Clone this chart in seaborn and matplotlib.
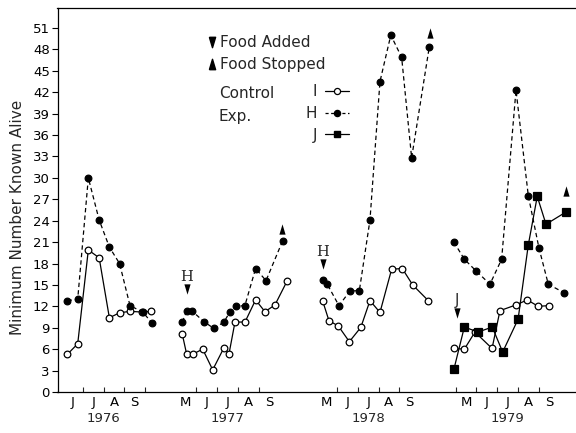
import numpy as np
import pandas as pd
import matplotlib
matplotlib.use("Agg")
import matplotlib.pyplot as plt
import seaborn as sns
from matplotlib.lines import Line2D

# ---------------- data ----------------
# sampling dates are given as month + fraction of the month (6.5 = mid June)
years = [1976, 1977, 1978, 1979]

control_dates_1976 = [6.27, 6.76, 7.27, 7.79, 8.28, 8.77, 9.27, 9.85, 10.3]
control_1976 = [5.3, 6.75, 19.9, 18.8, 10.4, 11.1, 11.3, 11.2, 11.3]
h_dates_1976 = [6.27, 6.76, 7.27, 7.79, 8.28, 8.77, 9.27, 9.88, 10.32]
h_1976 = [12.8, 13.0, 30.0, 24.1, 20.3, 18.0, 12.1, 11.2, 9.7]

control_dates_1977 = [5.33, 5.54, 5.83, 6.31, 6.79, 7.33, 7.57, 7.86, 8.34, 8.85, 9.3, 9.78, 10.37]
control_1977 = [8.1, 5.3, 5.3, 6.0, 3.1, 6.2, 5.3, 9.8, 9.8, 12.9, 11.25, 12.2, 15.6]
h_dates_1977 = [5.33, 5.54, 5.78, 6.37, 6.85, 7.33, 7.62, 7.89, 8.33, 8.85, 9.35, 10.15]
h_1977 = [9.8, 11.3, 11.4, 9.85, 8.9, 9.8, 11.25, 12.1, 12.05, 17.3, 15.6, 21.2]

control_dates_1978 = [5.32, 5.62, 6.07, 6.6, 7.15, 7.59, 8.07, 8.63, 9.14, 9.64, 10.39]
control_1978 = [12.75, 10.0, 9.25, 7.05, 9.05, 12.8, 11.15, 17.2, 17.3, 15.0, 12.8]
h_dates_1978 = [5.32, 5.54, 6.1, 6.63, 7.08, 7.59, 8.07, 8.59, 9.11, 9.59, 10.44]
h_1978 = [15.7, 15.1, 12.1, 14.15, 14.2, 24.1, 43.5, 50.0, 46.9, 32.8, 48.4]

control_dates_1979 = [4.93, 5.42, 5.93, 6.75, 7.13, 7.9, 8.44, 8.97, 9.47]
control_1979 = [6.1, 6.0, 8.4, 6.1, 11.4, 12.2, 12.9, 12.0, 12.1]
h_dates_1979 = [4.92, 5.42, 5.97, 6.65, 7.21, 7.9, 8.49, 9.0, 9.45, 10.21]
h_1979 = [21.0, 18.6, 17.0, 15.1, 18.6, 42.3, 27.5, 20.2, 15.1, 13.9]
j_dates_1979 = [4.92, 5.42, 6.08, 6.76, 7.26, 8.0, 8.49, 8.92, 9.34, 10.29]
j_1979 = [3.2, 9.1, 8.4, 9.1, 5.6, 10.2, 20.6, 27.4, 23.5, 25.2]

# food manipulation events
added_years = [1977, 1978, 1979]
added_dates = [5.54, 5.32, 5.05]
added_levels = [14.4, 18.0, 11.1]
added_grids = ["H", "H", "J"]
stopped_years = [1977, 1978, 1979]
stopped_dates = [10.13, 10.47, 10.29]
stopped_levels = [22.9, 50.3, 28.1]

month_letters = {5: "M", 6: "J", 7: "J", 8: "A", 9: "S"}
year_months = {1976: [6, 7, 8, 9], 1977: [5, 6, 7, 8, 9],
               1978: [5, 6, 7, 8, 9], 1979: [5, 6, 7, 8, 9]}
y_ticks = list(range(0, 52, 3))

# --------------- layout helpers ---------------
# winters are left out: each season is shifted along a compressed axis
year_offset = {1976: 0.0, 1977: 6.45, 1978: 13.2, 1979: 19.9}
year_ticks = {1976: [7, 8, 9, 10], 1977: [6, 7, 8, 9],
              1978: [6, 7, 8, 9], 1979: [5, 6, 7, 8, 9]}

rows = []
def add(series, year, dates, vals):
    for d, v in zip(dates, vals):
        rows.append({"series": series, "year": year,
                     "x": year_offset[year] + d, "value": v})

add("Control", 1976, control_dates_1976, control_1976)
add("Control", 1977, control_dates_1977, control_1977)
add("Control", 1978, control_dates_1978, control_1978)
add("Control", 1979, control_dates_1979, control_1979)
add("H", 1976, h_dates_1976, h_1976)
add("H", 1977, h_dates_1977, h_1977)
add("H", 1978, h_dates_1978, h_1978)
add("H", 1979, h_dates_1979, h_1979)
add("J", 1979, j_dates_1979, j_1979)
df = pd.DataFrame(rows)

ev_add = pd.DataFrame({"x": [year_offset[y] + d for y, d in zip(added_years, added_dates)],
                       "value": added_levels, "grid": added_grids})
ev_stop = pd.DataFrame({"x": [year_offset[y] + d for y, d in zip(stopped_years, stopped_dates)],
                        "value": stopped_levels})

# --------------- drawing ---------------
sns.set_style("ticks")
plt.rcParams["font.family"] = ["DejaVu Sans"]

W, H = 576, 433
fig = plt.figure(figsize=(W / 100, H / 100), dpi=100)
ax = fig.add_axes([57.5 / W, 41 / H, 518.5 / W, 384 / H])

lw = 0.9
sns.lineplot(data=df[df.series == "Control"], x="x", y="value", units="year",
             estimator=None, sort=False, color="black", lw=lw, marker="o",
             markersize=4.8, markerfacecolor="white", markeredgecolor="black",
             markeredgewidth=0.9, ax=ax)
sns.lineplot(data=df[df.series == "H"], x="x", y="value", units="year",
             estimator=None, sort=False, color="black", lw=lw,
             linestyle=(0, (3.5, 2.5)), marker="o", markersize=4.8,
             markerfacecolor="black", markeredgecolor="black",
             markeredgewidth=0.9, ax=ax)
sns.lineplot(data=df[df.series == "J"], x="x", y="value", units="year",
             estimator=None, sort=False, color="black", lw=lw, marker="s",
             markersize=5.4, markerfacecolor="black", markeredgecolor="black",
             markeredgewidth=0.9, ax=ax)

tri_down = [(-0.6, 1.0), (0.6, 1.0), (0.0, -1.0), (-0.6, 1.0)]
tri_up = [(-0.6, -1.0), (0.6, -1.0), (0.0, 1.0), (-0.6, -1.0)]
sns.scatterplot(data=ev_add, x="x", y="value", marker=tri_down, s=55,
                color="black", linewidth=0, ax=ax)
sns.scatterplot(data=ev_stop, x="x", y="value", marker=tri_up, s=55,
                color="black", linewidth=0, ax=ax)
for _, r in ev_add.iterrows():
    fam = "DejaVu Serif" if r["grid"] == "H" else "DejaVu Sans"
    ax.annotate(r["grid"], xy=(r["x"], r["value"]), xytext=(0, 8.5),
                textcoords="offset points", ha="center", va="center",
                fontsize=10.5, family=fam)

# axes limits / spines
ax.set_xlim(5.79, 30.68)
ax.set_ylim(0, 53.8)
ax.spines["right"].set_visible(False)
for s in ["left", "bottom", "top"]:
    ax.spines[s].set_linewidth(0.9)
    ax.spines[s].set_color("black")

# y axis
ax.set_yticks(y_ticks)
ax.set_yticklabels([str(t) for t in y_ticks])
ax.tick_params(axis="y", direction="out", length=4, width=0.8, pad=1.5,
               labelsize=9.5, colors="black")
ax.set_ylabel("Minimum Number Known Alive", fontsize=11)
ax.yaxis.set_label_coords(-0.062, 0.456)

# x axis: month letters at month centres, ticks at month boundaries
maj, lab, mnr = [], [], []
for y in years:
    for m in year_months[y]:
        maj.append(year_offset[y] + m + 0.5)
        lab.append(month_letters[m])
    for m in year_ticks[y]:
        mnr.append(year_offset[y] + m)
ax.set_xticks(maj)
ax.set_xticklabels(lab)
ax.set_xticks(mnr, minor=True)
ax.tick_params(axis="x", which="major", length=0, pad=3, labelsize=9.5,
               colors="black")
ax.tick_params(axis="x", which="minor", direction="in", length=3.5, width=0.8)
ax.set_xlabel("")
for y in years:
    c = year_offset[y] + (year_months[y][0] + year_months[y][-1] + 1) / 2
    ax.text(c, -0.068, str(y), transform=ax.get_xaxis_transform(),
            ha="center", va="center", fontsize=9.5)

# legend: food events
h_add = Line2D([], [], ls="none", marker=tri_down, color="black", markersize=7.5)
h_stop = Line2D([], [], ls="none", marker=tri_up, color="black", markersize=7.5)
leg1 = ax.legend([h_add, h_stop], ["Food Added", "Food Stopped"],
                 loc="upper left", bbox_to_anchor=(208 / W, 1 - 35 / H),
                 bbox_transform=fig.transFigure, frameon=False, fontsize=11,
                 handlelength=0.5, handletextpad=0.3, labelspacing=0.45,
                 borderpad=0, borderaxespad=0)
ax.add_artist(leg1)

# legend: grids
h_c = Line2D([], [], color="black", lw=lw, marker="o", markersize=4.4,
             markerfacecolor="white", markeredgecolor="black", markeredgewidth=0.9)
h_h = Line2D([], [], color="black", lw=lw, ls=(0, (2.5, 2)), marker="o",
             markersize=4.4, markerfacecolor="black", markeredgecolor="black")
h_j = Line2D([], [], color="black", lw=lw, marker="s", markersize=4.8,
             markerfacecolor="black", markeredgecolor="black")
leg2 = ax.legend([h_c, h_h, h_j], ["I", "H", "J"], loc="upper right",
                 bbox_to_anchor=(349 / W, 1 - 84 / H),
                 bbox_transform=fig.transFigure, frameon=False, fontsize=11,
                 markerfirst=False, handlelength=1.6, handletextpad=0.5,
                 labelspacing=0.45, borderpad=0, borderaxespad=0)
fig.text(219 / W, 1 - 94 / H, "Control", ha="left", va="center", fontsize=11)
fig.text(219 / W, 1 - 116 / H, "Exp.", ha="left", va="center", fontsize=11)

fig.savefig("out.png", dpi=100)
